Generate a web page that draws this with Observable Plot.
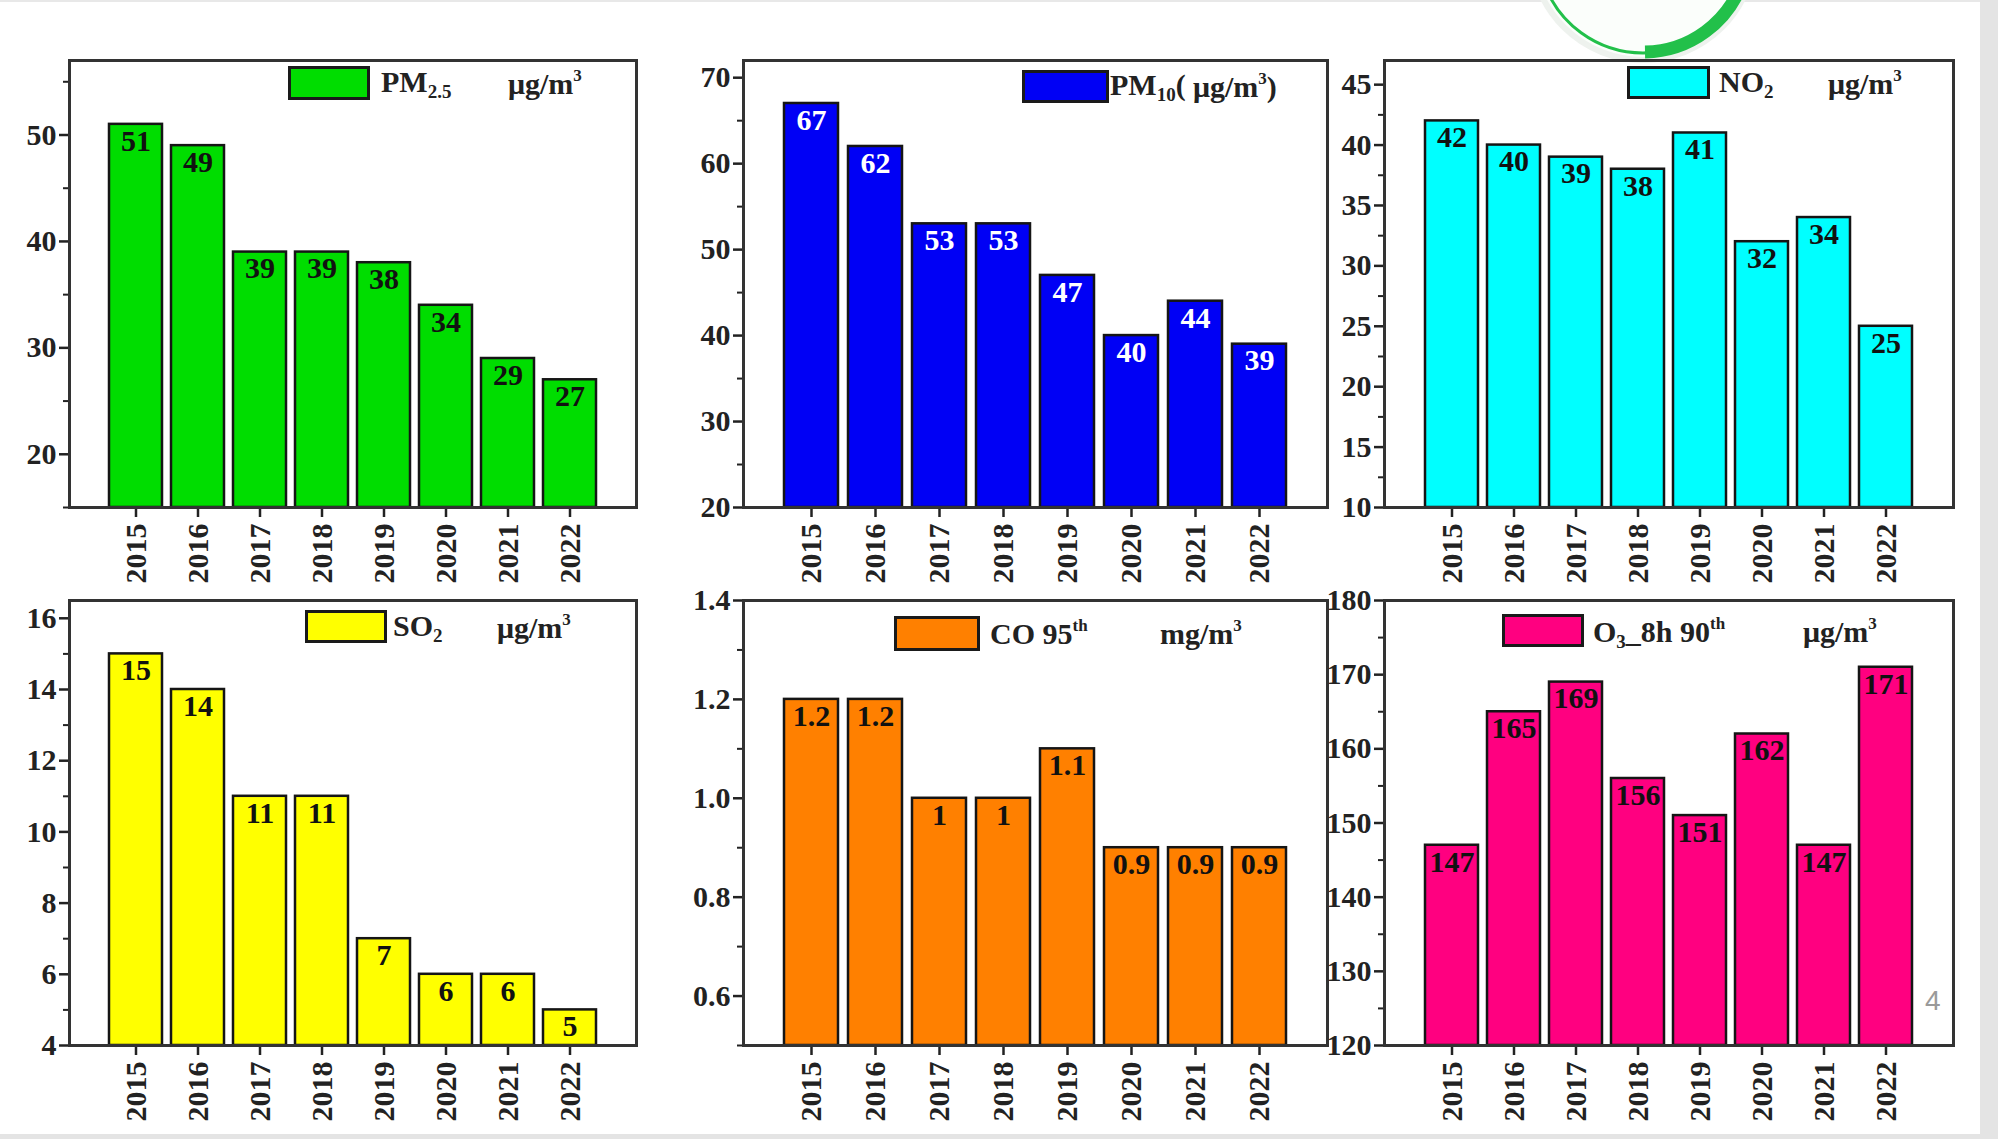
<!DOCTYPE html>
<html>
<head>
<meta charset="utf-8">
<script src="https://cdn.jsdelivr.net/npm/d3@7"></script>
<script src="https://cdn.jsdelivr.net/npm/@observablehq/plot@0.6"></script>
<style>
  html, body { margin: 0; padding: 0; background: #ffffff; }
  #page { position: relative; width: 1998px; height: 1139px; overflow: hidden; background: #ffffff; }
  .panel { position: absolute; }
  .panel svg { overflow: visible; }
  .lg { position: absolute; font-family: "Liberation Serif", "Times New Roman", serif; font-weight: bold; font-size: 30px; color: #222; line-height: 1; white-space: nowrap; }
  .lg sub { font-size: 19px; vertical-align: -6px; }
  .lg sup { font-size: 17px; vertical-align: 13px; }
  .sw { position: absolute; box-sizing: border-box; border: 3px solid #1a1a1a; }
  #rightStrip { position: absolute; left: 1980px; top: 0; width: 18px; height: 1139px; background: #e4e4e4; }
  #bottomStrip { position: absolute; left: 0; top: 1134px; width: 1998px; height: 5px; background: #e4e4e4; }
  #topLine { position: absolute; left: 0; top: 0; width: 1998px; height: 2px; background: #e8e8e8; }
  #pageNum { position: absolute; left: 1925px; top: 985px; font-family: "Liberation Sans", Arial, sans-serif; font-size: 28px; color: #9a9a9a; }
</style>
</head>
<body>
<div id="page">
  <div id="topLine"></div>
  <svg id="logo" style="position:absolute;left:1480px;top:0" width="330" height="70">
    <circle cx="163" cy="-52" r="112" fill="#fbfefb" stroke="#eef2ee" stroke-width="6"></circle>
    <path d="M 63 -20 A 105 105 0 0 0 263 -20" fill="none" stroke="#22c04a" stroke-width="3"></path>
    <path d="M 165 52 A 105 105 0 0 0 263 -20" fill="none" stroke="#22c04a" stroke-width="13"></path>
  </svg>
  <div id="rightStrip"></div>
  <div id="bottomStrip"></div>
</div>
<script>
// ---------------- data ----------------
const years = ["2015", "2016", "2017", "2018", "2019", "2020", "2021", "2022"];
const pm25 = [51, 49, 39, 39, 38, 34, 29, 27];
const pm10 = [67, 62, 53, 53, 47, 40, 44, 39];
const no2  = [42, 40, 39, 38, 41, 32, 34, 25];
const so2  = [15, 14, 11, 11, 7, 6, 6, 5];
const co95 = [1.2, 1.2, 1, 1, 1.1, 0.9, 0.9, 0.9];
const o3   = [147, 165, 169, 156, 151, 162, 147, 171];

const pm25Ticks = [20, 30, 40, 50];
const pm10Ticks = [20, 30, 40, 50, 60, 70];
const no2Ticks  = [10, 15, 20, 25, 30, 35, 40, 45];
const so2Ticks  = [4, 6, 8, 10, 12, 14, 16];
const coTicks   = [0.6, 0.8, 1.0, 1.2, 1.4];
const o3Ticks   = [120, 130, 140, 150, 160, 170, 180];

// ---------------- layout / style ----------------
const panels = [
  {values: pm25, ticks: pm25Ticks, domain: [15, 57], fmt: d3.format("d"), fill: "#00dd00", label: "#111",
   left: 0, top: 0, width: 660, height: 600, ml: 69, mr: 24, mt: 60, mb: 93,
   legend: {sw: [288, 66, 82, 34], name: ["PM<sub>2.5</sub>", 381, 67], unit: ["μg/m<sup>3</sup>", 508, 67]}},
  {values: pm10, ticks: pm10Ticks, domain: [20, 72], fmt: d3.format("d"), fill: "#0000f5", label: "#ffffff",
   left: 660, top: 0, width: 680, height: 600, ml: 83, mr: 13, mt: 60, mb: 93,
   legend: {sw: [1022, 70, 87, 33], name: ["PM<sub>10</sub>(", 1110, 70], unit: ["μg/m<sup>3</sup>)", 1193, 70]}},
  {values: no2, ticks: no2Ticks, domain: [10, 47], fmt: d3.format("d"), fill: "#00ffff", label: "#111",
   left: 1320, top: 0, width: 660, height: 600, ml: 64, mr: 27, mt: 60, mb: 93,
   legend: {sw: [1627, 66, 83, 33], name: ["NO<sub>2</sub>", 1719, 67], unit: ["μg/m<sup>3</sup>", 1828, 67]}},
  {values: so2, ticks: so2Ticks, domain: [4, 16.5], fmt: d3.format("d"), fill: "#ffff00", label: "#111",
   left: 0, top: 580, width: 660, height: 560, ml: 69, mr: 24, mt: 20, mb: 95,
   legend: {sw: [305, 610, 82, 33], name: ["SO<sub>2</sub>", 393, 611], unit: ["μg/m<sup>3</sup>", 497, 611]}},
  {values: co95, ticks: coTicks, domain: [0.5, 1.4], fmt: d3.format(".1f"), fill: "#ff8000", label: "#111",
   left: 660, top: 580, width: 680, height: 560, ml: 83, mr: 13, mt: 20, mb: 95,
   legend: {sw: [894, 616, 86, 35], name: ["CO 95<sup>th</sup>", 990, 617], unit: ["mg/m<sup>3</sup>", 1160, 617]}},
  {values: o3, ticks: o3Ticks, domain: [120, 180], fmt: d3.format("d"), fill: "#ff0080", label: "#111",
   left: 1320, top: 580, width: 660, height: 560, ml: 64, mr: 27, mt: 20, mb: 95,
   legend: {sw: [1502, 614, 82, 33], name: ["O<sub>3</sub>_8h 90<sup>th</sup>", 1593, 615], unit: ["μg/m<sup>3</sup>", 1803, 615]}}
];

const page = document.getElementById("page");

for (const p of panels) {
  const data = years.map((y, i) => ({year: y, value: p.values[i]}));
  const lo = p.domain[0];
  const step = (p.ticks[1] - p.ticks[0]) / 2;
  const minor = d3.range(Math.ceil(p.domain[0] / step) * step, p.domain[1] + 1e-9, step)
    .filter(v => !p.ticks.some(t => Math.abs(t - v) < 1e-9));

  const chart = Plot.plot({
    width: p.width,
    height: p.height,
    marginLeft: p.ml,
    marginRight: p.mr,
    marginTop: p.mt,
    marginBottom: p.mb,
    style: {
      fontFamily: "'Liberation Serif', 'Times New Roman', serif",
      fontWeight: "bold",
      fontSize: "30px",
      color: "#222",
      background: "transparent",
      overflow: "visible"
    },
    x: {domain: years, paddingInner: 0.15, paddingOuter: 0.6, align: 0.5, label: null},
    y: {domain: p.domain, label: null},
    marks: [
      Plot.barY(data, {x: "year", y1: () => lo, y2: "value", fill: p.fill, stroke: "#151515", strokeWidth: 2.5}),
      Plot.text(data, {x: "year", y: "value", text: d => String(d.value), lineAnchor: "top", dy: 5,
        fill: p.label, fontSize: 30, fontWeight: "bold"}),
      Plot.axisY({ticks: p.ticks, tickSize: 10, tickPadding: 3, tickFormat: p.fmt, strokeWidth: 2.5, fontSize: 30, label: null}),
      Plot.axisY({ticks: minor, tickSize: 6, tickFormat: () => "", strokeWidth: 2, label: null}),
      Plot.axisX({tickSize: 10, tickPadding: 6, tickRotate: -90, strokeWidth: 2.5, fontSize: 30, label: null}),
      Plot.frame({stroke: "#333", strokeWidth: 3})
    ]
  });

  const wrap = document.createElement("div");
  wrap.className = "panel";
  wrap.style.left = p.left + "px";
  wrap.style.top = p.top + "px";
  wrap.appendChild(chart);
  page.appendChild(wrap);

  // legend (HTML overlay inside the frame)
  const L = p.legend;
  const sw = document.createElement("div");
  sw.className = "sw";
  sw.style.left = L.sw[0] + "px";
  sw.style.top = L.sw[1] + "px";
  sw.style.width = L.sw[2] + "px";
  sw.style.height = L.sw[3] + "px";
  sw.style.background = p.fill;
  page.appendChild(sw);
  for (const part of [L.name, L.unit]) {
    const t = document.createElement("div");
    t.className = "lg";
    t.innerHTML = part[0];
    t.style.left = part[1] + "px";
    t.style.top = part[2] + "px";
    page.appendChild(t);
  }
}

const pn = document.createElement("div");
pn.id = "pageNum";
pn.textContent = "4";
page.appendChild(pn);
</script>
</body>
</html>
